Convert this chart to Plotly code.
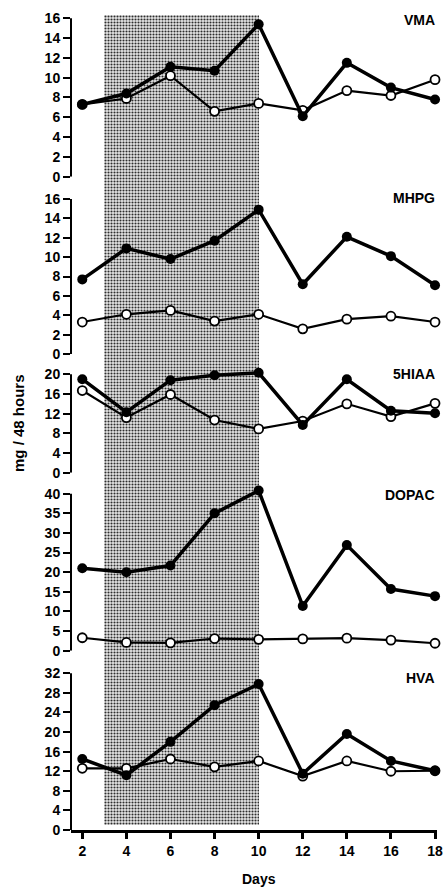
import plotly.graph_objects as go

days = [2, 4, 6, 8, 10, 12, 14, 16, 18]

panels = ["VMA", "MHPG", "5HIAA", "DOPAC", "HVA"]

vma_filled = [7.3, 8.4, 11.1, 10.7, 15.4, 6.1, 11.5, 9.0, 7.8]
vma_open = [7.3, 7.9, 10.2, 6.6, 7.4, 6.7, 8.7, 8.2, 9.8]

mhpg_filled = [7.7, 10.9, 9.8, 11.7, 14.9, 7.2, 12.1, 10.1, 7.1]
mhpg_open = [3.3, 4.1, 4.5, 3.4, 4.1, 2.6, 3.6, 3.9, 3.3]

hiaa_filled = [19.0, 12.3, 18.8, 19.8, 20.3, 9.7, 19.0, 12.6, 12.1]
hiaa_open = [16.7, 11.2, 15.9, 10.7, 8.9, 10.5, 14.0, 11.4, 14.1]

dopac_filled = [21.0, 20.0, 21.7, 35.0, 40.8, 11.4, 26.9, 15.7, 13.9]
dopac_open = [3.3, 2.1, 2.0, 3.1, 2.9, 3.0, 3.2, 2.7, 1.9]

hva_filled = [14.5, 11.2, 18.0, 25.5, 29.8, 11.5, 19.6, 14.1, 12.1]
hva_open = [12.6, 12.6, 14.5, 12.9, 14.1, 11.0, 14.1, 12.0, 12.1]

filled_series = [vma_filled, mhpg_filled, hiaa_filled, dopac_filled, hva_filled]
open_series = [vma_open, mhpg_open, hiaa_open, dopac_open, hva_open]

y_max = [16, 16, 20, 40, 32]
y_step = [2, 2, 4, 5, 4]

shade_start = 3
shade_end = 10

x_ticks = list(range(2, 19, 2))

W, H = 445, 887
ML, MR = 71, 8

# pixel geometry of panels (top tick, zero) in page pixels
panel_px = [(18.3, 176.7), (199.0, 354.0), (374.3, 472.7), (493.7, 650.7), (673.3, 830.0)]
label_px = [20, 198, 374, 495, 678]
EXT = 1.06  # headroom above top tick so peak markers are not hidden

x_range = [1.488, 18.09]

font_fam = "Liberation Sans, Arial, sans-serif"
tick_font = dict(family=font_fam, size=14, color="black", weight="bold")

fig = go.Figure()

# shaded (stippled) treatment period on a background subplot
fig.add_trace(go.Bar(
    x=[(shade_start + shade_end) / 2], y=[1], width=[shade_end - shade_start],
    xaxis="x", yaxis="y",
    marker=dict(color="#e6e6e6", line=dict(width=0),
                pattern=dict(shape=".", fgcolor="#2e2e2e", bgcolor="#e8e8e8",
                             size=3, solidity=0.4)),
    showlegend=False, hoverinfo="skip"))

layout = dict(
    width=W, height=H,
    margin=dict(l=ML, r=MR, t=0, b=0, pad=0),
    paper_bgcolor="white", plot_bgcolor="rgba(0,0,0,0)",
    showlegend=False, template="none",
    xaxis=dict(domain=[0, 1], range=x_range, visible=False, fixedrange=True),
    yaxis=dict(domain=[1 - 825 / H, 1 - 15 / H], range=[0, 1], visible=False),
    bargap=0,
)

annotations = []
shapes = []
for i, name in enumerate(panels):
    k = i + 2
    xa = f"x{k}"
    ya = f"y{k}"
    top_px, zero_px = panel_px[i]
    ppu = (zero_px - top_px) / y_max[i]
    ext_top_px = zero_px - ppu * y_max[i] * EXT
    fig.add_trace(go.Scatter(
        x=days, y=open_series[i], xaxis=xa, yaxis=ya, mode="lines+markers",
        line=dict(color="black", width=2.2),
        marker=dict(symbol="circle", size=9, color="white",
                    line=dict(color="black", width=1.8)),
        cliponaxis=False, hoverinfo="skip"))
    fig.add_trace(go.Scatter(
        x=days, y=filled_series[i], xaxis=xa, yaxis=ya, mode="lines+markers",
        line=dict(color="black", width=3.5),
        marker=dict(symbol="circle", size=10, color="black"),
        cliponaxis=False, hoverinfo="skip"))
    last = (k == 6)
    xdict = dict(domain=[0, 1], range=x_range, anchor=ya, showgrid=False,
                 zeroline=False, fixedrange=True)
    if last:
        xdict.update(showline=True, linewidth=2.5, linecolor="black",
                     ticks="outside", ticklen=6, tickwidth=2.5, tickcolor="black",
                     tickvals=x_ticks, tickfont=tick_font, showticklabels=True)
    else:
        xdict.update(visible=False)
    layout[f"xaxis{k}"] = xdict
    layout[f"yaxis{k}"] = dict(
        domain=[1 - zero_px / H, 1 - ext_top_px / H], range=[0, y_max[i] * EXT],
        anchor=xa, showline=False,
        ticks="outside", ticklen=7, tickwidth=2, tickcolor="black",
        tickvals=list(range(0, y_max[i] + 1, y_step[i])),
        tickfont=tick_font, showgrid=False, zeroline=False, fixedrange=True)
    # vertical axis spine from 0 to the top tick
    shapes.append(dict(type="line", xref=f"{xa} domain", yref=ya,
                       x0=0, x1=0, y0=0, y1=y_max[i],
                       line=dict(color="black", width=2), layer="above"))
    annotations.append(dict(
        text=name, xref="paper", yref="paper", x=1.0, y=1 - label_px[i] / H,
        xanchor="right", yanchor="middle", showarrow=False,
        font=dict(family=font_fam, size=14, color="black", weight="bold")))

annotations.append(dict(
    text="mg / 48 hours", xref="paper", yref="paper",
    x=(18 - ML) / (W - ML - MR), y=1 - 423 / H, textangle=-90,
    xanchor="center", yanchor="middle", showarrow=False,
    font=dict(family="Liberation Sans Narrow, " + font_fam, size=15, color="black", weight="bold")))
annotations.append(dict(
    text="Days", xref="paper", yref="paper",
    x=(259 - ML) / (W - ML - MR), y=1 - 879 / H,
    xanchor="center", yanchor="middle", showarrow=False,
    font=dict(family=font_fam, size=14, color="black", weight="bold")))

layout["annotations"] = annotations
layout["shapes"] = shapes
fig.update_layout(**layout)

fig.write_html("out.html")
